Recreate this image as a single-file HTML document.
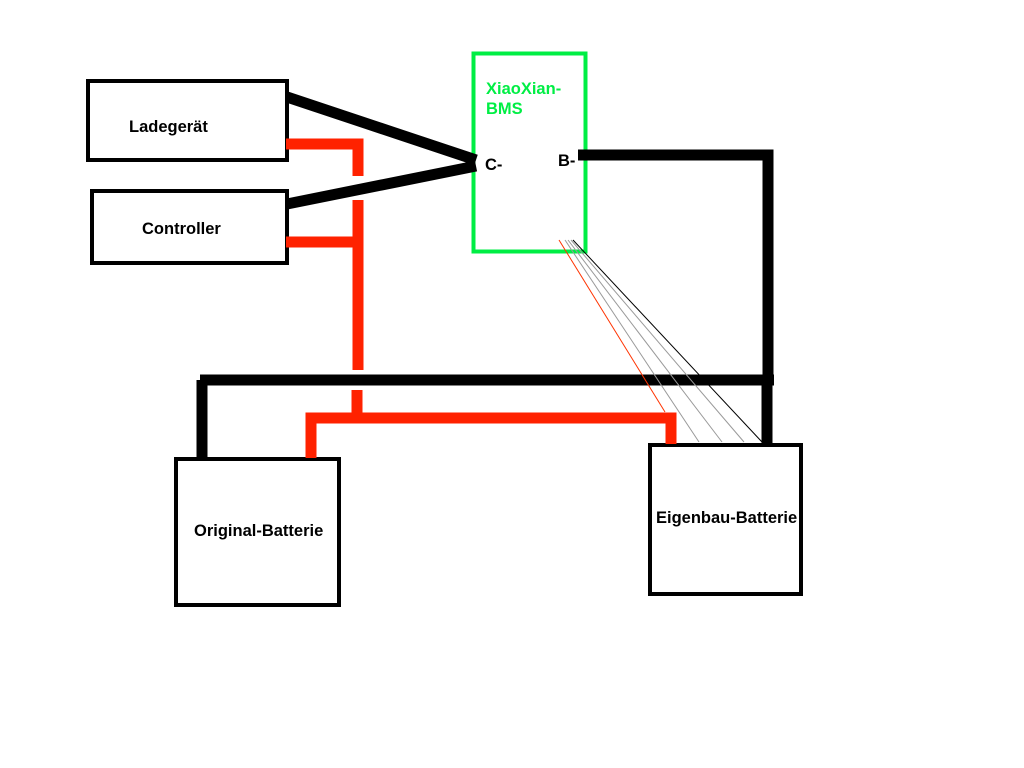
<!DOCTYPE html>
<html><head><style>
body{margin:0;background:#fff;}
svg{display:block;}
text{font-family:"Liberation Sans",sans-serif;font-weight:bold;font-size:16.5px;}
</style></head><body>
<svg width="1024" height="768" viewBox="0 0 1024 768">
<rect width="1024" height="768" fill="#fff"/>
<g fill="#fff" stroke="#000" stroke-width="4">
<rect x="88" y="81" width="199" height="79"/>
<rect x="92" y="191" width="195" height="72"/>
<rect x="176" y="459" width="163" height="146"/>
<rect x="650" y="445" width="151" height="149"/>
</g>
<rect x="473.5" y="53.5" width="112" height="198" fill="none" stroke="#00ee44" stroke-width="4"/>
<g stroke="#ff2200" stroke-width="11" fill="none">
<polyline points="286,144 358,144 358,176"/>
<line x1="358" y1="200" x2="358" y2="370"/>
<line x1="286" y1="242" x2="358" y2="242"/>
<line x1="357" y1="390" x2="357" y2="418"/>
<polyline points="311,458 311,418 671,418 671,444"/>
</g>
<g stroke="#000" stroke-width="11" fill="none">
<line x1="287" y1="97" x2="476" y2="160"/>
<line x1="287" y1="204" x2="476" y2="166"/>
<polyline points="578,155 768,155 768,380"/>
<line x1="200" y1="380" x2="774" y2="380"/>
<line x1="202" y1="380" x2="202" y2="458"/>
<line x1="767" y1="380" x2="767" y2="444"/>
</g>
<g fill="none">
<line x1="559" y1="240" x2="665" y2="412" stroke="#ff3300" stroke-width="1"/>
<line x1="565" y1="240" x2="699" y2="442" stroke="#999" stroke-width="1"/>
<line x1="568" y1="240" x2="722" y2="442" stroke="#999" stroke-width="1"/>
<line x1="571" y1="240" x2="744" y2="442" stroke="#999" stroke-width="1"/>
<line x1="573" y1="240" x2="762" y2="442" stroke="#000" stroke-width="1"/>
</g>
<text x="129" y="132">Ladegerät</text>
<text x="142" y="234">Controller</text>
<text x="194" y="536">Original-Batterie</text>
<text x="656" y="523">Eigenbau-Batterie</text>
<text x="486" y="94" fill="#00ee44">XiaoXian-</text>
<text x="486" y="114" fill="#00ee44">BMS</text>
<text x="485" y="170">C-</text>
<text x="558" y="166">B-</text>
</svg>
</body></html>
